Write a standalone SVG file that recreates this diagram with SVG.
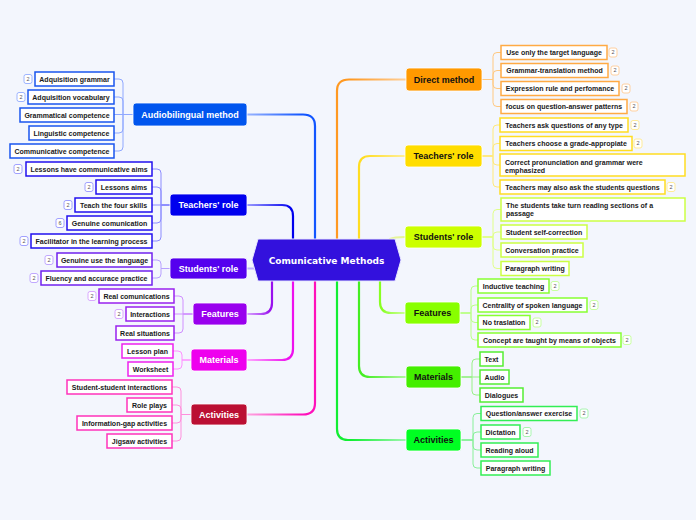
<svg xmlns="http://www.w3.org/2000/svg" width="696" height="520" viewBox="0 0 696 520">
<style>
.bg{fill:#f3f6fd}
.main{stroke:#ffffff;stroke-width:0.8;rx:3;ry:3}
.mt{font-family:"Liberation Sans",Arial,sans-serif;font-weight:bold;font-size:9px;text-anchor:middle}
.w{fill:#ffffff}
.k{fill:#111111}
.leaf{fill:#ffffff;stroke-width:1.5}
.lt{font-family:"Liberation Sans",Arial,sans-serif;font-weight:bold;font-size:7px;fill:#1a1a1a;text-anchor:middle}
.lt2{font-family:"Liberation Sans",Arial,sans-serif;font-weight:bold;font-size:7px;fill:#1a1a1a}
.bd{fill:#ffffff;stroke-width:1}
.bt{font-family:"Liberation Sans",Arial,sans-serif;font-size:5.5px;fill:#555555;text-anchor:middle}
.br{fill:none;stroke-width:2.2;stroke-linecap:round}
.lk{fill:none;stroke-width:1}
</style>
<defs>
<linearGradient id="gBlue" x1="1" y1="1" x2="0" y2="0"><stop offset="0" stop-color="#1155ff"/><stop offset="0.6" stop-color="#1155ff"/><stop offset="1" stop-color="#99b4ff"/></linearGradient>
<linearGradient id="gDBlue" x1="1" y1="1" x2="0" y2="0"><stop offset="0" stop-color="#0000ee"/><stop offset="0.5" stop-color="#0000ee"/><stop offset="1" stop-color="#9a9aff"/></linearGradient>
<linearGradient id="gPurp" x1="1" y1="0" x2="0" y2="1"><stop offset="0" stop-color="#9911ee"/><stop offset="0.5" stop-color="#9911ee"/><stop offset="1" stop-color="#d7a4ff"/></linearGradient>
<linearGradient id="gMag" x1="1" y1="0" x2="0" y2="1"><stop offset="0" stop-color="#ee11ee"/><stop offset="0.55" stop-color="#ee11ee"/><stop offset="1" stop-color="#ffa8ff"/></linearGradient>
<linearGradient id="gPink" x1="1" y1="0" x2="0" y2="1"><stop offset="0" stop-color="#ff11bb"/><stop offset="0.6" stop-color="#ff11bb"/><stop offset="1" stop-color="#ffa6e0"/></linearGradient>
<linearGradient id="gOr" x1="0" y1="1" x2="1" y2="0"><stop offset="0" stop-color="#ff9922"/><stop offset="0.6" stop-color="#ff9922"/><stop offset="1" stop-color="#ffd09a"/></linearGradient>
<linearGradient id="gYel" x1="0" y1="1" x2="1" y2="0"><stop offset="0" stop-color="#ffdd22"/><stop offset="0.55" stop-color="#ffdd22"/><stop offset="1" stop-color="#ffee99"/></linearGradient>
<linearGradient id="gYG" x1="0" y1="0" x2="1" y2="1"><stop offset="0" stop-color="#88ff22"/><stop offset="0.5" stop-color="#88ff22"/><stop offset="1" stop-color="#ccff99"/></linearGradient>
<linearGradient id="gLime" x1="0" y1="0" x2="1" y2="1"><stop offset="0" stop-color="#44ee22"/><stop offset="0.55" stop-color="#44ee22"/><stop offset="1" stop-color="#b0f7a0"/></linearGradient>
<linearGradient id="gGreen" x1="0" y1="0" x2="1" y2="1"><stop offset="0" stop-color="#11ee33"/><stop offset="0.6" stop-color="#11ee33"/><stop offset="1" stop-color="#a0f7b0"/></linearGradient>
</defs>
<rect class="bg" x="0" y="0" width="696" height="520"/>

<g id="connectors">
<path class="br" stroke="url(#gBlue)" d="M315,239 V126 Q315,114.5 303,114.5 H247"/>
<path class="br" stroke="url(#gDBlue)" d="M293,239 V216 Q293,205 282,205 H247"/>
<path class="br" stroke="#bfb0ff" d="M254,268.5 H247"/>
<path class="br" stroke="url(#gPurp)" d="M272,281 V303 Q272,314 261,314 H247"/>
<path class="br" stroke="url(#gMag)" d="M293,281 V349 Q293,360 282,360 H247"/>
<path class="br" stroke="url(#gPink)" d="M315,281 V403 Q315,414.5 303,414.5 H247"/>
<path class="br" stroke="url(#gOr)" d="M337,239 V91 Q337,79.5 349,79.5 H406"/>
<path class="br" stroke="url(#gYel)" d="M359,239 V167 Q359,156 370,156 H405"/>
<path class="br" stroke="#e6f59a" d="M390,239 Q394,237 405,237"/>
<path class="br" stroke="url(#gYG)" d="M380,281 V302 Q380,313 391,313 H405"/>
<path class="br" stroke="url(#gLime)" d="M359,281 V366 Q359,377 370,377 H406"/>
<path class="br" stroke="url(#gGreen)" d="M337,281 V429 Q337,440 348,440 H406"/>

<g stroke="#8fa8ff" class="lk">
<path d="M133,114.5 H123 V83 Q123,79 119,79 H114"/>
<path d="M133,114.5 H123 V101 Q123,97 119,97 H114"/>
<path d="M133,114.5 H114"/>
<path d="M133,114.5 H123 V129 Q123,133 119,133 H114"/>
<path d="M133,114.5 H123 V147 Q123,151 119,151 H114"/>
</g>
<g stroke="#8c8cff" class="lk">
<path d="M170,205 H161 V173 Q161,169 157,169 H152"/>
<path d="M170,205 H161 V191 Q161,187 157,187 H152"/>
<path d="M170,205 H152"/>
<path d="M170,205 H161 V219 Q161,223 157,223 H152"/>
<path d="M170,205 H161 V237 Q161,241 157,241 H152"/>
</g>
<g stroke="#b8a0ff" class="lk">
<path d="M170,268.5 H161 V264 Q161,260 157,260 H152"/>
<path d="M170,268.5 H161 V274 Q161,278 157,278 H152"/>
</g>
<g stroke="#d090ff" class="lk">
<path d="M193,314 H183 V300 Q183,296 179,296 H174"/>
<path d="M193,314 H174"/>
<path d="M193,314 H183 V329 Q183,333 179,333 H174"/>
</g>
<g stroke="#ff90ff" class="lk">
<path d="M191,360 H182 V355 Q182,351 178,351 H173"/>
<path d="M191,360 H182 V365 Q182,369 178,369 H173"/>
</g>
<g stroke="#ff90dd" class="lk">
<path d="M191,414.5 H181 V391 Q181,387 177,387 H172"/>
<path d="M191,414.5 H181 V409 Q181,405 177,405 H172"/>
<path d="M191,414.5 H181 V419 Q181,423 177,423 H172"/>
<path d="M191,414.5 H181 V437 Q181,441 177,441 H172"/>
</g>
<g stroke="#ffc880" class="lk">
<path d="M482,79.5 H493 V56.5 Q493,52.5 497,52.5 H501"/>
<path d="M482,79.5 H493 V74.5 Q493,70.5 497,70.5 H501"/>
<path d="M482,79.5 H493 V84.5 Q493,88.5 497,88.5 H501"/>
<path d="M482,79.5 H493 V102.5 Q493,106.5 497,106.5 H501"/>
</g>
<g stroke="#ffe97a" class="lk">
<path d="M482,156 H493 V129 Q493,125 497,125 H500"/>
<path d="M482,156 H493 V147.5 Q493,143.5 497,143.5 H500"/>
<path d="M482,156 H493 V161 Q493,165 497,165 H500"/>
<path d="M482,156 H493 V183 Q493,187 497,187 H500"/>
</g>
<g stroke="#e0ff88" class="lk">
<path d="M482,237 H493 V213.5 Q493,209.5 497,209.5 H501"/>
<path d="M482,237 H493 V236 Q493,232 497,232 H501"/>
<path d="M482,237 H493 V246 Q493,250 497,250 H501"/>
<path d="M482,237 H493 V264.5 Q493,268.5 497,268.5 H501"/>
</g>
<g stroke="#bbff88" class="lk">
<path d="M460,313 H471 V290 Q471,286 475,286 H478"/>
<path d="M460,313 H471 V309 Q471,305 475,305 H478"/>
<path d="M460,313 H471 V318.5 Q471,322.5 475,322.5 H478"/>
<path d="M460,313 H471 V336 Q471,340 475,340 H478"/>
</g>
<g stroke="#99f088" class="lk">
<path d="M461,377 H472 V363 Q472,359 476,359 H480"/>
<path d="M461,377 H480"/>
<path d="M461,377 H472 V391 Q472,395 476,395 H480"/>
</g>
<g stroke="#88f099" class="lk">
<path d="M461,440 H473 V417.5 Q473,413.5 477,413.5 H481"/>
<path d="M461,440 H473 V436 Q473,432 477,432 H481"/>
<path d="M461,440 H473 V446 Q473,450 477,450 H481"/>
<path d="M461,440 H473 V464 Q473,468 477,468 H481"/>
</g>
</g>

<g id="center">
<polygon points="252,260 258,239 395,239 401,260 395,281 258,281" fill="#3311dd" stroke="#e8e8ff" stroke-width="1"/>
<text x="326.5" y="263.5" font-family="'DejaVu Sans',Verdana,sans-serif" font-weight="bold" font-size="9px" fill="#ffffff" text-anchor="middle">Comunicative Methods</text>
</g>

<g id="audiobilingual">
<rect class="main" x="133" y="103" width="114" height="23" fill="#0055ee"/>
<text class="mt w" x="190" y="117.5">Audiobilingual method</text>
<rect class="leaf" stroke="#1a55ee" x="35" y="72" width="79" height="14"/><text class="lt" x="74.5" y="81.5">Adquisition grammar</text>
<rect class="bd" stroke="#9db4ff" x="24" y="74.5" width="8" height="9" rx="2"/><text class="bt" x="28" y="80.8">2</text>
<rect class="leaf" stroke="#1a55ee" x="28" y="90" width="86" height="14"/><text class="lt" x="71" y="99.5">Adquisition vocabulary</text>
<rect class="bd" stroke="#9db4ff" x="17" y="92.5" width="8" height="9" rx="2"/><text class="bt" x="21" y="98.8">2</text>
<rect class="leaf" stroke="#1a55ee" x="20" y="108" width="94" height="14"/><text class="lt" x="67" y="117.5">Grammatical competence</text>
<rect class="leaf" stroke="#1a55ee" x="29" y="126" width="85" height="14"/><text class="lt" x="71.5" y="135.5">Linguistic competence</text>
<rect class="leaf" stroke="#1a55ee" x="10" y="144" width="104" height="14"/><text class="lt" x="62" y="153.5">Communicative competence</text>
</g>

<g id="teachers-left">
<rect class="main" x="170" y="194" width="77" height="22" fill="#0000ee"/>
<text class="mt w" x="208.5" y="208.3">Teachers' role</text>
<rect class="leaf" stroke="#2211ee" x="26" y="162" width="126" height="14"/><text class="lt" x="89" y="171.5">Lessons have communicative aims</text>
<rect class="bd" stroke="#a0a0ff" x="14" y="164.5" width="8" height="9" rx="2"/><text class="bt" x="18" y="170.8">2</text>
<rect class="leaf" stroke="#2211ee" x="96" y="180" width="56" height="14"/><text class="lt" x="124" y="189.5">Lessons aims</text>
<rect class="bd" stroke="#a0a0ff" x="85" y="182.5" width="8" height="9" rx="2"/><text class="bt" x="89" y="188.8">2</text>
<rect class="leaf" stroke="#2211ee" x="75" y="198" width="77" height="14"/><text class="lt" x="113.5" y="207.5">Teach the four skills</text>
<rect class="bd" stroke="#a0a0ff" x="64" y="200.5" width="8" height="9" rx="2"/><text class="bt" x="68" y="206.8">2</text>
<rect class="leaf" stroke="#2211ee" x="67" y="216" width="85" height="14"/><text class="lt" x="109.5" y="225.5">Genuine comunication</text>
<rect class="bd" stroke="#a0a0ff" x="56" y="218.5" width="8" height="9" rx="2"/><text class="bt" x="60" y="224.8">6</text>
<rect class="leaf" stroke="#2211ee" x="31" y="234" width="121" height="14"/><text class="lt" x="91.5" y="243.5">Facilitator in the learning process</text>
<rect class="bd" stroke="#a0a0ff" x="20" y="236.5" width="8" height="9" rx="2"/><text class="bt" x="24" y="242.8">2</text>
</g>

<g id="students-left">
<rect class="main" x="170" y="258" width="77" height="21" fill="#5500ee"/>
<text class="mt w" x="208.5" y="271.8">Students' role</text>
<rect class="leaf" stroke="#7022ee" x="57" y="253" width="95" height="14"/><text class="lt" x="104.5" y="262.5">Genuine use the language</text>
<rect class="bd" stroke="#c0a8ff" x="45" y="255.5" width="8" height="9" rx="2"/><text class="bt" x="49" y="261.8">2</text>
<rect class="leaf" stroke="#7022ee" x="41" y="271" width="111" height="14"/><text class="lt" x="96.5" y="280.5">Fluency and accurace practice</text>
<rect class="bd" stroke="#c0a8ff" x="30" y="273.5" width="8" height="9" rx="2"/><text class="bt" x="34" y="279.8">2</text>
</g>

<g id="features-left">
<rect class="main" x="193" y="303" width="54" height="22" fill="#9900ee"/>
<text class="mt w" x="220" y="317.3">Features</text>
<rect class="leaf" stroke="#9922ee" x="99" y="289" width="75" height="14"/><text class="lt" x="136.5" y="298.5">Real comunications</text>
<rect class="bd" stroke="#d9a8ff" x="88" y="291.5" width="8" height="9" rx="2"/><text class="bt" x="92" y="297.8">2</text>
<rect class="leaf" stroke="#9922ee" x="126" y="307" width="48" height="14"/><text class="lt" x="150" y="316.5">Interactions</text>
<rect class="bd" stroke="#d9a8ff" x="115" y="309.5" width="8" height="9" rx="2"/><text class="bt" x="119" y="315.8">2</text>
<rect class="leaf" stroke="#9922ee" x="116" y="326" width="58" height="14"/><text class="lt" x="145" y="335.5">Real situations</text>
</g>

<g id="materials-left">
<rect class="main" x="191" y="349" width="56" height="22" fill="#ee00ee"/>
<text class="mt w" x="219" y="363.3">Materials</text>
<rect class="leaf" stroke="#ee22ee" x="122" y="344" width="51" height="14"/><text class="lt" x="147.5" y="353.5">Lesson plan</text>
<rect class="leaf" stroke="#ee22ee" x="128" y="362" width="45" height="14"/><text class="lt" x="150.5" y="371.5">Worksheet</text>
</g>

<g id="activities-left">
<rect class="main" x="191" y="404" width="56" height="21" fill="#bb0f33"/>
<text class="mt w" x="219" y="417.8">Activities</text>
<rect class="leaf" stroke="#ff33bb" x="67" y="380" width="105" height="14"/><text class="lt" x="119.5" y="389.5">Student-student interactions</text>
<rect class="leaf" stroke="#ff33bb" x="127" y="398" width="45" height="14"/><text class="lt" x="149.5" y="407.5">Role plays</text>
<rect class="leaf" stroke="#ff33bb" x="77" y="416" width="95" height="14"/><text class="lt" x="124.5" y="425.5">Information-gap activities</text>
<rect class="leaf" stroke="#ff33bb" x="107" y="434" width="65" height="14"/><text class="lt" x="139.5" y="443.5">Jigsaw activities</text>
</g>

<g id="direct-method">
<rect class="main" x="406" y="68" width="76" height="23" fill="#ff9900"/>
<text class="mt k" x="444" y="82.8">Direct method</text>
<rect class="leaf" stroke="#ffaa44" x="501" y="45.5" width="106" height="14"/><text class="lt" x="554" y="55">Use only the target language</text>
<rect class="bd" stroke="#ffd0a0" x="609" y="48" width="8" height="9" rx="2"/><text class="bt" x="613" y="54.3">2</text>
<rect class="leaf" stroke="#ffaa44" x="501" y="63.5" width="107" height="14"/><text class="lt" x="554.5" y="73">Grammar-translation method</text>
<rect class="bd" stroke="#ffd0a0" x="611" y="66" width="8" height="9" rx="2"/><text class="bt" x="615" y="72.3">2</text>
<rect class="leaf" stroke="#ffaa44" x="501" y="81.5" width="118" height="14"/><text class="lt" x="560" y="91">Expression rule and perfomance</text>
<rect class="bd" stroke="#ffd0a0" x="622" y="84" width="8" height="9" rx="2"/><text class="bt" x="626" y="90.3">2</text>
<rect class="leaf" stroke="#ffaa44" x="501" y="99.5" width="126" height="14"/><text class="lt" x="564" y="109">focus on question-answer patterns</text>
<rect class="bd" stroke="#ffd0a0" x="630" y="102" width="8" height="9" rx="2"/><text class="bt" x="634" y="108.3">2</text>
</g>

<g id="teachers-right">
<rect class="main" x="405" y="145" width="77" height="22" fill="#ffdd00"/>
<text class="mt k" x="443.5" y="159.3">Teachers' role</text>
<rect class="leaf" stroke="#ffdd22" x="500" y="118" width="128" height="14"/><text class="lt" x="564" y="127.5">Teachers ask questions of any type</text>
<rect class="bd" stroke="#ffeb99" x="631" y="120.5" width="8" height="9" rx="2"/><text class="bt" x="635" y="126.8">2</text>
<rect class="leaf" stroke="#ffdd22" x="500" y="136.5" width="132" height="14"/><text class="lt" x="566" y="146">Teachers choose a grade-appropiate</text>
<rect class="bd" stroke="#ffeb99" x="634" y="139" width="8" height="9" rx="2"/><text class="bt" x="638" y="145.3">2</text>
<rect class="leaf" stroke="#ffdd22" x="500" y="154" width="185" height="22"/><text class="lt2" x="505" y="164.5">Correct pronunciation and grammar were</text><text class="lt2" x="505" y="172.5">emphasized</text>
<rect class="leaf" stroke="#ffdd22" x="500" y="180" width="165" height="14"/><text class="lt" x="582.5" y="189.5">Teachers may also ask the students questions</text>
<rect class="bd" stroke="#ffeb99" x="667" y="182.5" width="8" height="9" rx="2"/><text class="bt" x="671" y="188.8">2</text>
</g>

<g id="students-right">
<rect class="main" x="405" y="226" width="77" height="22" fill="#ccff00"/>
<text class="mt k" x="443.5" y="240.3">Students' role</text>
<rect class="leaf" stroke="#ccff44" x="501" y="198" width="184" height="23"/><text class="lt2" x="506" y="207.8">The students take turn reading sections of a</text><text class="lt2" x="506" y="216">passage</text>
<rect class="leaf" stroke="#ccff44" x="501" y="225" width="86" height="14"/><text class="lt" x="544" y="234.5">Student self-correction</text>
<rect class="leaf" stroke="#ccff44" x="501" y="243" width="82" height="14"/><text class="lt" x="542" y="252.5">Conversation practice</text>
<rect class="leaf" stroke="#ccff44" x="501" y="261.5" width="68" height="14"/><text class="lt" x="535" y="271">Paragraph writing</text>
</g>

<g id="features-right">
<rect class="main" x="405" y="302" width="55" height="22" fill="#88ff00"/>
<text class="mt k" x="432.5" y="316.3">Features</text>
<rect class="leaf" stroke="#88ff33" x="478" y="279" width="71" height="14"/><text class="lt" x="513.5" y="288.5">Inductive teaching</text>
<rect class="bd" stroke="#c8ffa0" x="551" y="281.5" width="8" height="9" rx="2"/><text class="bt" x="555" y="287.8">2</text>
<rect class="leaf" stroke="#88ff33" x="478" y="298" width="109" height="14"/><text class="lt" x="532.5" y="307.5">Centrality of spoken language</text>
<rect class="bd" stroke="#c8ffa0" x="590" y="300.5" width="8" height="9" rx="2"/><text class="bt" x="594" y="306.8">2</text>
<rect class="leaf" stroke="#88ff33" x="478" y="315.5" width="52" height="14"/><text class="lt" x="504" y="325">No traslation</text>
<rect class="bd" stroke="#c8ffa0" x="533" y="318" width="8" height="9" rx="2"/><text class="bt" x="537" y="324.3">2</text>
<rect class="leaf" stroke="#88ff33" x="478" y="333" width="143" height="14"/><text class="lt" x="549.5" y="342.5">Concept are taught by means of objects</text>
<rect class="bd" stroke="#c8ffa0" x="623" y="335.5" width="8" height="9" rx="2"/><text class="bt" x="627" y="341.8">2</text>
</g>

<g id="materials-right">
<rect class="main" x="406" y="366" width="55" height="22" fill="#44ee00"/>
<text class="mt k" x="433.5" y="380.3">Materials</text>
<rect class="leaf" stroke="#55ee33" x="480" y="352" width="23" height="14"/><text class="lt" x="491.5" y="361.5">Text</text>
<rect class="leaf" stroke="#55ee33" x="480" y="370" width="29" height="14"/><text class="lt" x="494.5" y="379.5">Audio</text>
<rect class="leaf" stroke="#55ee33" x="480" y="388" width="43" height="14"/><text class="lt" x="501.5" y="397.5">Dialogues</text>
</g>

<g id="activities-right">
<rect class="main" x="406" y="429" width="55" height="22" fill="#00ff22"/>
<text class="mt k" x="433.5" y="443.3">Activities</text>
<rect class="leaf" stroke="#33ee55" x="481" y="406.5" width="96" height="14"/><text class="lt" x="529" y="416">Question/answer exercise</text>
<rect class="bd" stroke="#a8f5b0" x="580" y="409" width="8" height="9" rx="2"/><text class="bt" x="584" y="415.3">2</text>
<rect class="leaf" stroke="#33ee55" x="481" y="425" width="39" height="14"/><text class="lt" x="500.5" y="434.5">Dictation</text>
<rect class="bd" stroke="#a8f5b0" x="523" y="427.5" width="8" height="9" rx="2"/><text class="bt" x="527" y="433.8">2</text>
<rect class="leaf" stroke="#33ee55" x="481" y="443" width="57" height="14"/><text class="lt" x="509.5" y="452.5">Reading aloud</text>
<rect class="leaf" stroke="#33ee55" x="481" y="461" width="69" height="14"/><text class="lt" x="515.5" y="470.5">Paragraph writing</text>
</g>
</svg>
